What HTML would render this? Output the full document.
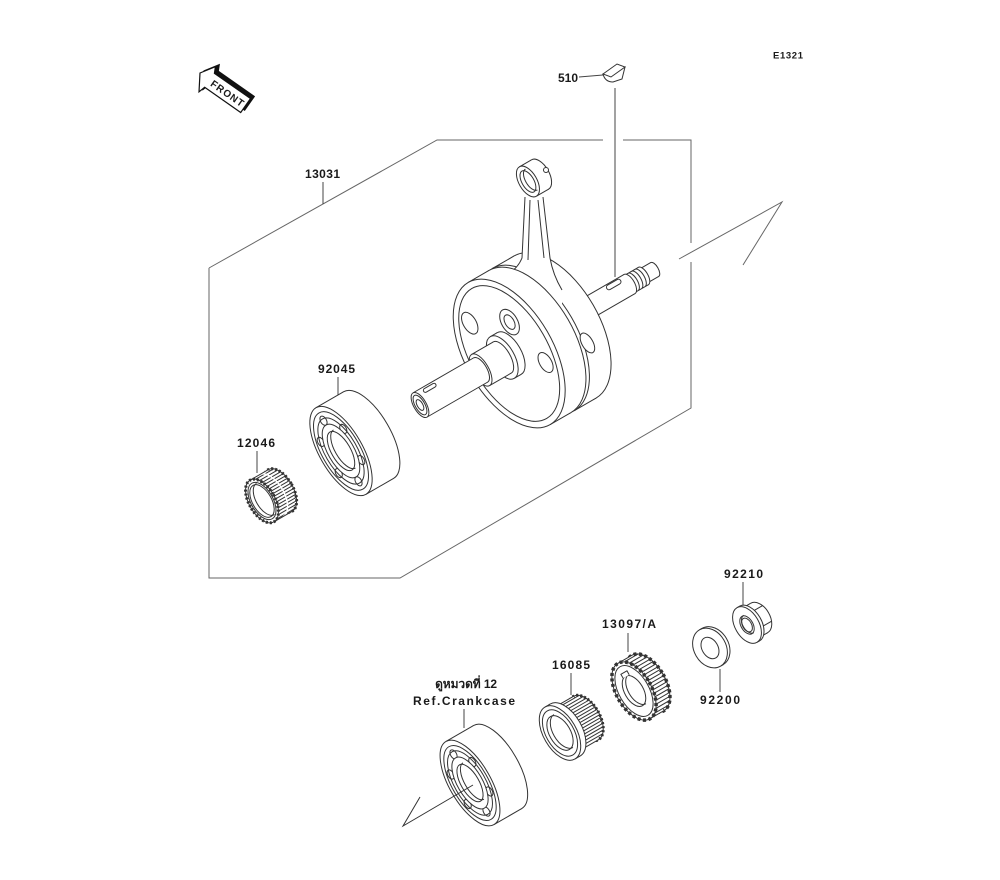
<!DOCTYPE html>
<html><head><meta charset="utf-8"><style>
html,body{margin:0;padding:0;background:#fff;}
svg{display:block;}
.s{fill:none;stroke:#333;stroke-width:1;}
.w{fill:#fff;stroke:#333;stroke-width:1;}
.b{fill:none;stroke:#666;stroke-width:1;}
.l{fill:none;stroke:#444;stroke-width:1;}
.t{stroke:#333;stroke-width:3;fill:none;stroke-dasharray:2 2;}
.t2{stroke:#333;stroke-width:3.5;fill:none;stroke-dasharray:3 2.5;}
text{font-family:"Liberation Sans","Noto Sans CJK SC",sans-serif;font-size:12px;font-weight:bold;fill:#1a1a1a;}
</style></head><body>
<svg width="1000" height="880" viewBox="0 0 1000 880" xmlns="http://www.w3.org/2000/svg">
<defs>
<clipPath id="c1"><ellipse cx="21" cy="0" rx="13" ry="24"/><rect x="0" y="-24" width="21" height="48"/></clipPath>
<clipPath id="c2"><ellipse cx="16" cy="0" rx="17.6" ry="32"/><rect x="0" y="-32" width="16" height="64"/></clipPath>
<clipPath id="c3"><ellipse cx="30" cy="0" rx="13.75" ry="25"/><rect x="6" y="-25" width="24" height="50"/></clipPath>
</defs>
<rect width="1000" height="880" fill="#fff"/>

<!-- box -->
<path class="b" d="M209,268 L437,140 L603,140 M623,140 L691,140 L691,243 M691,262 L691,408 L400,578 L209,578 L209,268"/>
<path class="b" d="M679,259 L782,202 L743,265"/>

<!-- FRONT arrow -->
<g transform="translate(200,73) rotate(35)">
<polygon points="0,0 9,-14 12,-8 56,-8 56,9 12,9 10,16" transform="translate(2,-4)" fill="#111" stroke="#111"/>
<polygon points="0,0 9,-14 12,-8 56,-8 56,9 12,9 10,16" fill="#fff" stroke="#111" stroke-width="1.2"/>
<text x="15" y="4.5" style="font-size:10px" textLength="38" lengthAdjust="spacing">FRONT</text>
</g>

<text x="773" y="58.5" style="font-size:9.5px" textLength="30" lengthAdjust="spacing">E1321</text>

<!-- 510 key -->
<text x="558" y="82" textLength="20" lengthAdjust="spacing">510</text>
<path class="l" d="M579,77 L603,75"/>
<path class="w" d="M603,74 Q605,82 613,82 L622,79 L625,67 Z"/>
<polygon class="w" points="603,74 617,64 625,67 611,77"/>

<!-- crank back part -->
<g transform="translate(420,405) rotate(-30)">
<ellipse cx="271" cy="0" rx="3.6" ry="8" class="w"/>
<rect x="258" y="-8" width="13" height="16" fill="#fff"/>
<path class="s" d="M258,-8H271M258,8H271"/>
<ellipse cx="258" cy="0" rx="3.6" ry="8" class="w"/>
<ellipse cx="258" cy="0" rx="4.5" ry="10" class="w"/>
<rect x="242" y="-10" width="16" height="20" fill="#fff"/>
<path class="s" d="M242,-10H258M242,10H258M246,-10A4.5,10 0 0 1 246,10M250,-10A4.5,10 0 0 1 250,10M254,-10A4.5,10 0 0 1 254,10"/>
<ellipse cx="242" cy="0" rx="4.5" ry="10" class="w"/>
<ellipse cx="242" cy="0" rx="5" ry="11" class="w"/>
<rect x="156" y="-11" width="86" height="22" fill="#fff"/>
<path class="s" d="M156,-11H242M156,11H242"/>
<rect x="220" y="-10" width="16" height="5" rx="2.5" class="s"/>
<ellipse cx="156" cy="0" rx="5" ry="11" class="w"/>
<ellipse cx="156" cy="0" rx="44" ry="82" class="w"/>
<rect x="131" y="-82" width="25" height="164" fill="#fff"/>
<path class="s" d="M131,-82H156M131,82H156"/>
<ellipse cx="131" cy="0" rx="44" ry="82" class="w"/>
<ellipse cx="176" cy="30" rx="5.5" ry="11" class="w"/>
</g>

<!-- 510 leader -->
<path class="l" d="M615,88 L615,277"/>

<!-- con rod -->
<path d="M525,197 L522,258 Q518,268 508,274 L505,305 L562,312 L562,290 Q553,275 550,258 L543,197 Z" fill="#fff"/>
<path class="s" d="M525,197 L522,258 Q518,268 508,274 M543,197 L550,258 Q553,275 562,290 M530,200 L528,260 M538,200 L544,258"/>
<g transform="translate(534,178) rotate(-30)">
<ellipse cx="7" cy="0" rx="9" ry="17" class="w"/>
<rect x="-7" y="-17" width="14" height="34" fill="#fff"/>
<path class="s" d="M-7,-17H7M-7,17H7"/>
<ellipse cx="-7" cy="0" rx="9" ry="17" class="w"/>
<ellipse cx="-7" cy="0" rx="6" ry="12" class="w"/>
<path class="s" d="M-3,-12A6,12 0 0 0 -3,12"/>
</g>
<circle cx="546" cy="170" r="2.5" class="w"/>

<!-- crank front part -->
<g transform="translate(420,405) rotate(-30)">
<ellipse cx="127" cy="0" rx="44" ry="82" class="w"/>
<rect x="103" y="-82" width="24" height="164" fill="#fff"/>
<path class="s" d="M103,-82H127M103,82H127"/>
<ellipse cx="103" cy="0" rx="44" ry="82" class="w"/>
<ellipse cx="103" cy="0" rx="39" ry="75" class="s"/>
<ellipse cx="119" cy="-27" rx="8" ry="14" class="w"/>
<ellipse cx="119" cy="-27" rx="4.5" ry="8" class="w"/>
<ellipse cx="84" cy="-46" rx="6.5" ry="12" class="w"/>
<ellipse cx="130" cy="26" rx="6" ry="11" class="w"/>
<ellipse cx="103" cy="0" rx="12" ry="24" class="w"/>
<rect x="95" y="-24" width="8" height="48" fill="#fff"/>
<path class="s" d="M95,-24H103M95,24H103"/>
<ellipse cx="95" cy="0" rx="12" ry="24" class="w"/>
<ellipse cx="95" cy="0" rx="8" ry="18" class="w"/>
<rect x="70" y="-18" width="25" height="36" fill="#fff"/>
<path class="s" d="M70,-18H95M70,18H95"/>
<ellipse cx="70" cy="0" rx="8" ry="18" class="w"/>
<ellipse cx="70" cy="0" rx="6.3" ry="14" class="w"/>
<rect x="0" y="-14" width="70" height="28" fill="#fff"/>
<path class="s" d="M0,-14H70M0,14H70"/>
<rect x="10" y="-12" width="14" height="4" rx="2" class="s"/>
<ellipse cx="0" cy="0" rx="6.3" ry="14" class="w"/>
<ellipse cx="0" cy="0" rx="4.8" ry="11" class="s"/>
<ellipse cx="0" cy="0" rx="2.8" ry="6" class="w"/>
</g>

<!-- 13031 -->
<text x="305" y="178" textLength="35" lengthAdjust="spacing">13031</text>
<path class="l" d="M323,182 L323,204"/>

<!-- 92045 bearing -->
<text x="318" y="373" textLength="37" lengthAdjust="spacing">92045</text>
<path class="l" d="M338,377 L338,398"/>
<g transform="translate(341,451) rotate(-30)">
<ellipse cx="32" cy="0" rx="21.5" ry="50" class="w"/>
<rect x="0" y="-50" width="32" height="100" fill="#fff"/>
<path class="s" d="M0,-50H32M0,50H32"/>
<ellipse cx="0" cy="0" rx="21.5" ry="50" class="w"/>
<ellipse cx="0" cy="0" rx="19" ry="44" class="s"/>
<ellipse cx="0" cy="0" rx="16" ry="37" class="s"/>
<ellipse cx="0" cy="-35" rx="3" ry="5" class="s"/>
<ellipse cx="13" cy="-18" rx="3" ry="5" class="s"/>
<ellipse cx="13" cy="18" rx="3" ry="5" class="s"/>
<ellipse cx="0" cy="35" rx="3" ry="5" class="s"/>
<ellipse cx="-13" cy="18" rx="3" ry="5" class="s"/>
<ellipse cx="-13" cy="-18" rx="3" ry="5" class="s"/>
<ellipse cx="0" cy="0" rx="13" ry="30" class="w"/>
<ellipse cx="0" cy="0" rx="9.5" ry="22" class="w"/>
<path class="s" d="M4,-22A9.5,22 0 0 0 4,22"/>
</g>

<!-- 12046 gear -->
<text x="237" y="447" textLength="38" lengthAdjust="spacing">12046</text>
<path class="l" d="M257,451 L257,473"/>
<g transform="translate(262,501) rotate(-30)">
<ellipse cx="21" cy="0" rx="13" ry="24" class="w"/>
<ellipse cx="21" cy="0" rx="13" ry="24" class="t"/>
<rect x="0" y="-24" width="21" height="48" fill="#fff"/>
<path class="s" clip-path="url(#c1)" d="M0,-22H34M0,-19H34M0,-16H34M0,-13H34M0,-10H34M0,-7H34M0,-4H34M0,-1H34M0,2H34M0,5H34M0,8H34M0,11H34M0,14H34M0,17H34M0,20H34M0,23H34"/>
<path d="M10.5,-24A13,24 0 0 1 10.5,24" fill="none" stroke="#fff" stroke-width="1.5"/>
<path class="s" d="M0,-24H21M0,24H21"/>
<ellipse cx="0" cy="0" rx="13" ry="24" class="w"/>
<ellipse cx="0" cy="0" rx="13" ry="24" class="t"/>
<ellipse cx="0" cy="0" rx="11" ry="20.5" class="s"/>
<ellipse cx="0" cy="0" rx="9.5" ry="18" class="w"/>
<path class="s" d="M4,-18A9.5,18 0 0 0 4,18"/>
</g>

<!-- 92210 nut -->
<text x="724" y="578" textLength="39" lengthAdjust="spacing">92210</text>
<path class="l" d="M743,582 L743,605"/>
<g transform="translate(747,625) rotate(-30)">
<ellipse cx="14" cy="0" rx="10.8" ry="17" class="w"/>
<rect x="3" y="-17" width="11" height="34" fill="#fff"/>
<path class="s" d="M3,-17H14M3,17H14M9,-9H23M9,9H23"/>
<ellipse cx="3" cy="0" rx="12" ry="20" class="w"/>
<rect x="0" y="-20" width="3" height="40" fill="#fff"/>
<path class="s" d="M0,-20H3M0,20H3"/>
<ellipse cx="0" cy="0" rx="12" ry="20" class="w"/>
<ellipse cx="0" cy="0" rx="6" ry="10" class="w"/>
<ellipse cx="0" cy="0" rx="4.5" ry="7.5" class="s"/>
<path class="s" d="M2,-10A6,10 0 0 0 2,10"/>
</g>

<!-- 92200 washer -->
<g transform="translate(710,648) rotate(-30)">
<ellipse cx="3" cy="0" rx="16" ry="21" class="w"/>
<rect x="0" y="-21" width="3" height="42" fill="#fff"/>
<path class="s" d="M0,-21H3M0,21H3"/>
<ellipse cx="0" cy="0" rx="16" ry="21" class="w"/>
<ellipse cx="0" cy="0" rx="8" ry="11.5" class="w"/>
</g>
<path class="l" d="M720,669 L720,692"/>
<text x="700" y="704" textLength="40" lengthAdjust="spacing">92200</text>

<!-- 13097/A gear -->
<text x="602" y="628" textLength="54" lengthAdjust="spacing">13097/A</text>
<path class="l" d="M628,633 L628,652"/>
<g transform="translate(634,691) rotate(-30)">
<ellipse cx="16" cy="0" rx="17.6" ry="32" class="w"/>
<ellipse cx="16" cy="0" rx="17.6" ry="32" class="t2"/>
<rect x="0" y="-32" width="16" height="64" fill="#fff"/>
<path class="s" clip-path="url(#c2)" d="M0,-30H36M0,-26.5H36M0,-23H36M0,-19.5H36M0,-16H36M0,-12.5H36M0,-9H36M0,-5.5H36M0,-2H36M0,1.5H36M0,5H36M0,8.5H36M0,12H36M0,15.5H36M0,19H36M0,22.5H36M0,26H36M0,29.5H36"/>
<path class="s" d="M0,-32H16M0,32H16"/>
<ellipse cx="0" cy="0" rx="17.6" ry="32" class="w"/>
<ellipse cx="0" cy="0" rx="17.6" ry="32" class="t2"/>
<ellipse cx="0" cy="0" rx="15" ry="28" class="s"/>
<ellipse cx="0" cy="0" rx="9.4" ry="17" class="w"/>
<path class="s" d="M4,-17A9.4,17 0 0 0 4,17"/>
<path class="w" d="M-3,-16.5 L-3,-21 L4,-21 L4,-16.5"/>
</g>

<!-- 16085 -->
<text x="552" y="669" textLength="38" lengthAdjust="spacing">16085</text>
<path class="l" d="M571,673 L571,695"/>
<g transform="translate(560,733) rotate(-30)">
<ellipse cx="30" cy="0" rx="13.75" ry="25" class="w"/>
<ellipse cx="30" cy="0" rx="13.75" ry="25" class="t"/>
<rect x="6" y="-25" width="24" height="50" fill="#fff"/>
<path class="s" clip-path="url(#c3)" d="M6,-23H44M6,-20H44M6,-17H44M6,-14H44M6,-11H44M6,-8H44M6,-5H44M6,-2H44M6,1H44M6,4H44M6,7H44M6,10H44M6,13H44M6,16H44M6,19H44M6,22H44"/>
<path class="s" d="M6,-25H30M6,25H30"/>
<ellipse cx="6" cy="0" rx="16.5" ry="30" class="w"/>
<rect x="0" y="-30" width="6" height="60" fill="#fff"/>
<path class="s" d="M0,-30H6M0,30H6"/>
<ellipse cx="0" cy="0" rx="16.5" ry="30" class="w"/>
<ellipse cx="0" cy="0" rx="14" ry="25.5" class="s"/>
<ellipse cx="0" cy="0" rx="10.5" ry="19" class="w"/>
<path class="s" d="M4,-19A10.5,19 0 0 0 4,19"/>
</g>

<!-- Ref crankcase bearing -->
<text x="435" y="688" textLength="62" lengthAdjust="spacing" style="font-family:'Liberation Sans','DejaVu Sans','Noto Sans CJK SC',sans-serif">ดูหมวดที่ 12</text>
<text x="413" y="705" textLength="102" lengthAdjust="spacing">Ref.Crankcase</text>
<path class="l" d="M464,709 L464,728"/>
<g transform="translate(470,783) rotate(-30)">
<ellipse cx="32" cy="0" rx="20.6" ry="48" class="w"/>
<rect x="0" y="-48" width="32" height="96" fill="#fff"/>
<path class="s" d="M0,-48H32M0,48H32"/>
<ellipse cx="0" cy="0" rx="20.6" ry="48" class="w"/>
<ellipse cx="0" cy="0" rx="18" ry="42" class="s"/>
<ellipse cx="0" cy="0" rx="15.5" ry="36" class="s"/>
<ellipse cx="0" cy="-33" rx="3" ry="5" class="s"/>
<ellipse cx="12.5" cy="-17" rx="3" ry="5" class="s"/>
<ellipse cx="12.5" cy="17" rx="3" ry="5" class="s"/>
<ellipse cx="0" cy="33" rx="3" ry="5" class="s"/>
<ellipse cx="-12.5" cy="17" rx="3" ry="5" class="s"/>
<ellipse cx="-12.5" cy="-17" rx="3" ry="5" class="s"/>
<ellipse cx="0" cy="0" rx="12.5" ry="29" class="w"/>
<ellipse cx="0" cy="0" rx="9" ry="21" class="w"/>
<path class="s" d="M4,-21A9,21 0 0 0 4,21"/>
</g>
<path class="s" d="M473,785 L403,826 L420,797"/>
</svg>
</body></html>
